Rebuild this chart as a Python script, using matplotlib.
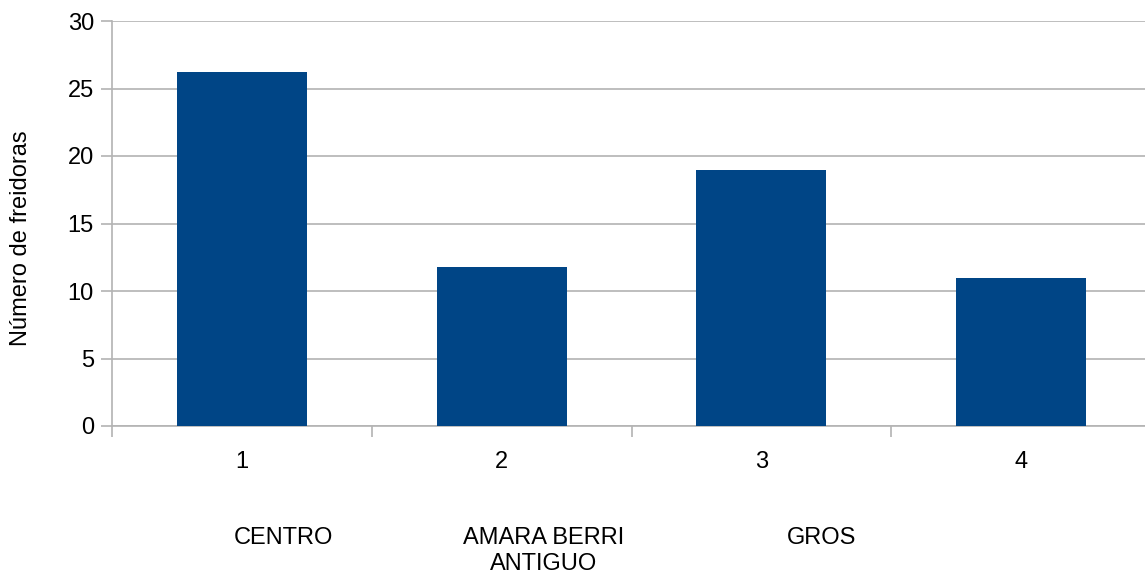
import matplotlib
matplotlib.use('agg')
from matplotlib import pyplot as plt
from matplotlib.transforms import blended_transform_factory

# numbers on the x axis and bar heights
POSITIONS = [1, 2, 3, 4]
VALUES = [26.2, 11.8, 18.95, 11.0]

# district names printed under the numbers
DISTRICTS = ['CENTRO', 'AMARA BERRI\nANTIGUO', 'GROS']
DISTRICT_X = [1.16, 2.16, 3.23]

Y_TICKS = [0, 5, 10, 15, 20, 25, 30]

BAR_COLOR = '#004586'
GRID_COLOR = '#b3b3b3'

plt.rcParams['font.family'] = ['Liberation Sans', 'DejaVu Sans']

fig = plt.figure(figsize=(11.45, 5.76), dpi=100)
ax = fig.add_axes([112 / 1145, 1 - 426 / 576, 1039 / 1145, 405 / 576])

ax.bar(POSITIONS, VALUES, width=0.5, color=BAR_COLOR, zorder=3)

ax.set_xlim(0.5, 4.5)
ax.set_ylim(0, 30)
ax.set_yticks(Y_TICKS)
ax.yaxis.grid(True, color=GRID_COLOR, linewidth=1.2, zorder=0)

ax.set_xticks(POSITIONS)
ax.set_xticklabels([str(p) for p in POSITIONS], fontsize=17)
ax.set_xticks([0.5, 1.5, 2.5, 3.5], minor=True)
ax.tick_params(axis='x', which='major', length=0, pad=18)
ax.tick_params(axis='x', which='minor', length=8, color=GRID_COLOR, width=1.2)
ax.tick_params(axis='y', length=8, color=GRID_COLOR, width=1.2, labelsize=17, pad=5)

for side in ['top', 'right']:
    ax.spines[side].set_visible(False)
for side in ['left', 'bottom']:
    ax.spines[side].set_color(GRID_COLOR)
    ax.spines[side].set_linewidth(1.2)

ax.set_ylabel('Número de freidoras', fontsize=17)
ax.yaxis.set_label_coords(-0.077, 0.464)

trans = blended_transform_factory(ax.transData, ax.transAxes)
for x, name in zip(DISTRICT_X, DISTRICTS):
    ax.text(x, -0.25, name, transform=trans, ha='center', va='top',
            fontsize=17, linespacing=1.2)

plt.savefig('out.png')
